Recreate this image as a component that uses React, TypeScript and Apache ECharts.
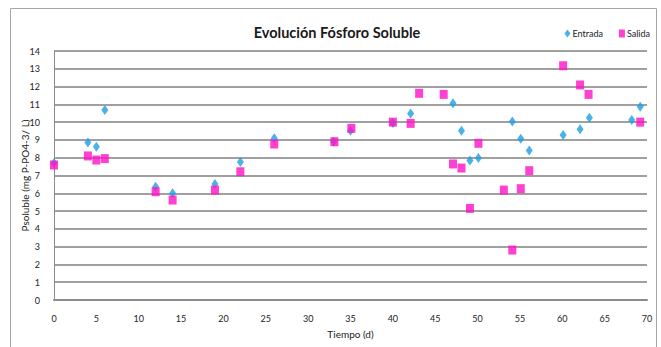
import React, { useEffect, useRef } from "react";
import * as echarts from "echarts";

const entradaDays = [0, 4, 5, 6, 12, 14, 19, 22, 26, 33, 35, 40, 42.1, 47.1, 48.1, 49.1, 50.1, 54.1, 55.1, 56.1, 60.1, 62.1, 63.2, 68.2, 69.2];
const entradaValues = [7.7, 8.85, 8.62, 10.68, 6.37, 6.0, 6.52, 7.76, 9.09, 8.9, 9.52, 9.95, 10.49, 11.06, 9.52, 7.85, 7.98, 10.03, 9.07, 8.41, 9.28, 9.6, 10.25, 10.12, 10.87];

const salidaDays = [0, 4, 5, 6, 12, 14, 19, 22, 26, 33.1, 35.1, 40, 42.1, 43.1, 46, 47.1, 48.1, 49.1, 50.1, 53.1, 54.1, 55.1, 56.1, 60.1, 62.1, 63.1, 69.2];
const salidaValues = [7.59, 8.1, 7.87, 7.95, 6.09, 5.62, 6.18, 7.21, 8.77, 8.9, 9.65, 10.0, 9.93, 11.62, 11.56, 7.65, 7.42, 5.15, 8.81, 6.18, 2.81, 6.26, 7.27, 13.17, 12.09, 11.56, 10.0];

const titleText = "Evolución Fósforo Soluble";
const xName = "Tiempo (d)";
const yName = "Psoluble (mg P-PO4-3/ L)";

const narrow = "Lato, 'Liberation Sans', sans-serif";
const BLUE = "#1E9EE3";
const PINK = "#FF12C6";

export default function App() {
  const ref = useRef<HTMLDivElement>(null);
  useEffect(() => {
    if (!ref.current) return;
    const chart = echarts.init(ref.current, null, { renderer: "svg" });
    const pairs = (xs: number[], ys: number[]) => xs.map((x, i) => [x, ys[i]]);
    chart.setOption({
      animation: false,
      backgroundColor: "#ffffff",
      title: {
        text: titleText,
        left: 332,
        top: 20,
        textAlign: "center",
        textStyle: { fontFamily: narrow, fontSize: 14.5, fontWeight: "bold", color: "#1a1a1a" },
      },
      legend: {
        right: 6,
        top: 24,
        itemWidth: 6,
        itemHeight: 8,
        itemGap: 16,
        textStyle: { fontFamily: narrow, fontSize: 9, color: "#222", padding: [0, 0, 0, -3] },
        data: [
          { name: "Entrada", icon: "diamond" },
          { name: "Salida", icon: "rect" },
        ],
      },
      graphic: [
        {
          type: "rect",
          shape: { x: 10.5, y: 8.5, width: 646, height: 345 },
          style: { fill: "none", stroke: "#a6a6a6", lineWidth: 1 },
          silent: true,
        },
      ],
      grid: { left: 54, right: 14, top: 51, bottom: 47 },
      xAxis: {
        type: "value",
        min: 0,
        max: 70,
        interval: 5,
        name: xName,
        nameLocation: "middle",
        nameGap: 29,
        nameTextStyle: { fontFamily: narrow, fontSize: 10, color: "#222" },
        axisLine: { show: true, lineStyle: { color: "#8c8c8c", width: 2 } },
        axisTick: { show: false },
        splitLine: { show: false },
        axisLabel: { fontFamily: narrow, fontSize: 9, color: "#222", margin: 14 },
      },
      yAxis: {
        type: "value",
        min: 0,
        max: 14,
        interval: 1,
        name: yName,
        nameLocation: "middle",
        nameGap: 24,
        nameMoveOverlap: false,
        nameTextStyle: { fontFamily: narrow, fontSize: 10, color: "#222" },
        axisLine: { show: true, lineStyle: { color: "#8c8c8c", width: 1 } },
        axisTick: { show: false },
        splitLine: { show: true, lineStyle: { color: "#a0a0a0", width: 2 } },
        axisLabel: { fontFamily: narrow, fontSize: 9, color: "#222", margin: 14 },
      },
      series: [
        {
          name: "Entrada",
          type: "scatter",
          symbol: "diamond",
          symbolSize: [7, 10],
          itemStyle: { color: BLUE },
          data: pairs(entradaDays, entradaValues),
        },
        {
          name: "Salida",
          type: "scatter",
          symbol: "rect",
          symbolSize: [8, 9],
          itemStyle: { color: PINK },
          data: pairs(salidaDays, salidaValues),
        },
      ],
    });
    return () => chart.dispose();
  }, []);
  return (
    <div
      ref={ref}
      style={{ position: "fixed", left: 0, top: 0, width: 661, height: 347 }}
    />
  );
}
